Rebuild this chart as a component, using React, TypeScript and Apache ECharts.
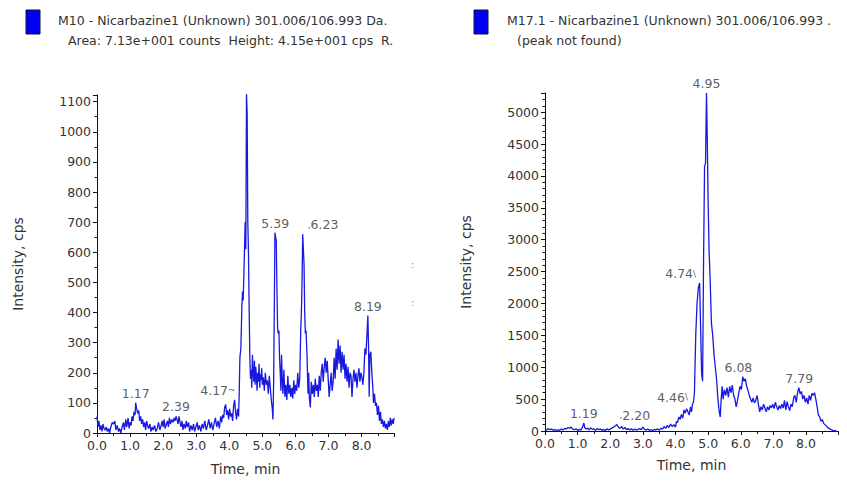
import React, { useEffect, useRef } from "react";
import * as echarts from "echarts";

// ---------- data ----------
// Left chromatogram: M10 - Nicarbazine1, [time (min), intensity (cps)]
const leftTrace: [number, number][] = [
  [0.0, 55], [0.03, 20], [0.06, 40], [0.09, 10], [0.12, 25], [0.15, 5], [0.18, 30], [0.21, 15], [0.25, 10], [0.28, 20],
  [0.31, 5], [0.35, 15], [0.38, 0], [0.42, 20], [0.46, 35], [0.5, 30], [0.54, 40], [0.57, 10], [0.61, 25], [0.65, 5],
  [0.68, 15], [0.72, 0], [0.76, 20], [0.8, 35], [0.83, 10], [0.87, 45], [0.9, 20], [0.94, 50], [0.97, 15], [1.0, 35],
  [1.03, 25], [1.06, 55], [1.09, 40], [1.12, 70], [1.15, 60], [1.17, 100], [1.2, 80], [1.23, 65], [1.26, 75], [1.29, 40],
  [1.32, 55], [1.35, 30], [1.38, 45], [1.41, 20], [1.44, 35], [1.47, 10], [1.5, 40], [1.53, 25], [1.56, 15], [1.6, 30],
  [1.63, 5], [1.67, 20], [1.7, 10], [1.74, 25], [1.78, 5], [1.82, 15], [1.86, 35], [1.9, 10], [1.94, 25], [1.97, 40],
  [2.0, 20], [2.03, 45], [2.06, 15], [2.1, 30], [2.13, 40], [2.16, 20], [2.19, 50], [2.22, 30], [2.26, 45], [2.3, 35],
  [2.33, 50], [2.36, 40], [2.39, 55], [2.42, 45], [2.45, 30], [2.48, 55], [2.51, 35], [2.54, 20], [2.57, 40], [2.6, 10],
  [2.63, 30], [2.67, 15], [2.7, 40], [2.73, 20], [2.77, 35], [2.8, 5], [2.84, 25], [2.88, 10], [2.92, 30], [2.95, 5],
  [2.99, 20], [3.03, 35], [3.06, 10], [3.1, 25], [3.14, 5], [3.18, 30], [3.22, 15], [3.26, 40], [3.3, 10], [3.34, 25],
  [3.38, 45], [3.42, 15], [3.46, 35], [3.5, 10], [3.54, 30], [3.58, 50], [3.62, 20], [3.66, 40], [3.7, 15], [3.74, 55],
  [3.77, 35], [3.8, 60], [3.83, 50], [3.86, 85], [3.89, 95], [3.92, 60], [3.95, 75], [3.98, 45], [4.01, 80], [4.04, 55],
  [4.07, 65], [4.1, 40], [4.13, 90], [4.16, 110], [4.19, 70], [4.22, 45], [4.25, 80], [4.28, 55], [4.3, 130], [4.32, 250],
  [4.35, 280], [4.38, 420], [4.4, 470], [4.42, 440], [4.44, 520], [4.46, 610], [4.48, 700], [4.5, 610], [4.52, 1125], [4.54, 1060],
  [4.56, 700], [4.58, 600], [4.6, 420], [4.62, 260], [4.64, 180], [4.66, 210], [4.68, 150], [4.7, 260], [4.72, 200], [4.74, 170],
  [4.76, 240], [4.78, 160], [4.8, 220], [4.82, 190], [4.84, 140], [4.86, 200], [4.88, 170], [4.9, 230], [4.92, 150], [4.94, 195],
  [4.96, 175], [4.98, 215], [5.0, 160], [5.03, 185], [5.06, 140], [5.09, 200], [5.12, 160], [5.15, 175], [5.18, 130], [5.21, 190],
  [5.24, 150], [5.27, 110], [5.3, 80], [5.32, 45], [5.34, 160], [5.36, 400], [5.38, 665], [5.4, 650], [5.42, 640], [5.44, 480],
  [5.46, 350], [5.48, 330], [5.5, 340], [5.52, 250], [5.54, 200], [5.56, 140], [5.58, 260], [5.6, 180], [5.62, 130], [5.65, 210],
  [5.68, 120], [5.71, 160], [5.74, 110], [5.77, 190], [5.8, 130], [5.83, 160], [5.86, 120], [5.89, 150], [5.92, 115], [5.95, 175],
  [5.98, 130], [6.01, 160], [6.04, 140], [6.07, 200], [6.1, 150], [6.13, 180], [6.16, 340], [6.18, 400], [6.2, 500], [6.22, 660],
  [6.24, 610], [6.26, 560], [6.28, 400], [6.3, 330], [6.32, 340], [6.35, 260], [6.38, 130], [6.4, 200], [6.42, 120], [6.45, 85],
  [6.48, 170], [6.51, 130], [6.54, 160], [6.57, 120], [6.6, 180], [6.63, 140], [6.66, 160], [6.69, 120], [6.72, 190], [6.75, 140],
  [6.78, 200], [6.81, 230], [6.84, 170], [6.87, 220], [6.9, 250], [6.93, 200], [6.96, 240], [6.99, 180], [7.02, 120], [7.05, 160],
  [7.08, 200], [7.11, 140], [7.14, 170], [7.17, 250], [7.2, 180], [7.23, 280], [7.26, 210], [7.29, 310], [7.32, 230], [7.35, 290],
  [7.38, 200], [7.41, 270], [7.44, 210], [7.47, 260], [7.5, 180], [7.53, 230], [7.56, 170], [7.59, 220], [7.62, 150], [7.65, 200],
  [7.68, 190], [7.71, 120], [7.74, 180], [7.77, 210], [7.8, 170], [7.83, 200], [7.86, 150], [7.89, 190], [7.92, 215], [7.95, 170],
  [7.98, 200], [8.01, 185], [8.04, 160], [8.07, 200], [8.1, 280], [8.13, 260], [8.16, 320], [8.19, 390], [8.21, 290], [8.23, 120],
  [8.25, 260], [8.28, 270], [8.31, 200], [8.34, 150], [8.36, 100], [8.39, 130], [8.42, 90], [8.45, 100], [8.48, 60], [8.51, 90],
  [8.54, 40], [8.57, 70], [8.6, 30], [8.63, 45], [8.66, 20], [8.69, 40], [8.72, 15], [8.75, 30], [8.78, 10], [8.81, 40],
  [8.84, 20], [8.87, 50], [8.9, 25], [8.93, 45], [8.96, 30], [8.98, 50],
];

// Right chromatogram: M17.1 - Nicarbazine1, [time (min), intensity (cps)]
const rightTrace: [number, number][] = [
  [0.0, 30], [0.05, 10], [0.1, 40], [0.15, 20], [0.2, 30], [0.25, 10], [0.3, 25], [0.35, 5], [0.4, 20], [0.45, 10],
  [0.5, 30], [0.55, 15], [0.6, 40], [0.65, 30], [0.7, 55], [0.75, 45], [0.8, 60], [0.85, 30], [0.9, 20], [0.95, 35],
  [1.0, 10], [1.05, 25], [1.1, 15], [1.15, 60], [1.19, 125], [1.22, 50], [1.26, 30], [1.3, 45], [1.35, 20], [1.4, 50],
  [1.45, 25], [1.5, 35], [1.55, 10], [1.6, 40], [1.65, 20], [1.7, 30], [1.75, 10], [1.8, 25], [1.85, 5], [1.9, 35],
  [1.95, 15], [2.0, 30], [2.05, 45], [2.1, 60], [2.15, 80], [2.2, 100], [2.25, 60], [2.3, 40], [2.35, 70], [2.4, 30],
  [2.45, 55], [2.5, 20], [2.55, 40], [2.6, 15], [2.65, 35], [2.7, 10], [2.75, 30], [2.8, 15], [2.85, 25], [2.9, 40],
  [2.95, 20], [3.0, 60], [3.05, 25], [3.1, 15], [3.15, 30], [3.2, 10], [3.25, 20], [3.3, 5], [3.35, 25], [3.4, 15],
  [3.45, 35], [3.5, 10], [3.55, 40], [3.6, 30], [3.65, 70], [3.7, 40], [3.75, 90], [3.8, 55], [3.85, 110], [3.9, 70],
  [3.95, 100], [4.0, 60], [4.03, 150], [4.06, 130], [4.1, 220], [4.14, 180], [4.18, 260], [4.22, 200], [4.26, 330], [4.3, 280],
  [4.34, 350], [4.38, 300], [4.42, 250], [4.46, 380], [4.49, 300], [4.52, 420], [4.55, 450], [4.58, 600], [4.62, 1500], [4.66, 2000],
  [4.7, 2250], [4.74, 2320], [4.77, 1600], [4.8, 900], [4.83, 780], [4.86, 2700], [4.89, 4150], [4.92, 4200], [4.95, 5300], [4.97, 4700],
  [5.0, 3600], [5.03, 2800], [5.06, 2400], [5.1, 1700], [5.14, 1500], [5.18, 1200], [5.22, 1000], [5.26, 800], [5.3, 500], [5.34, 300],
  [5.37, 220], [5.4, 500], [5.43, 700], [5.46, 500], [5.5, 650], [5.54, 560], [5.58, 680], [5.62, 530], [5.66, 700], [5.7, 600],
  [5.74, 720], [5.78, 560], [5.82, 500], [5.86, 380], [5.9, 480], [5.94, 600], [5.98, 700], [6.02, 650], [6.06, 850], [6.1, 780],
  [6.14, 820], [6.18, 700], [6.22, 640], [6.26, 560], [6.3, 500], [6.34, 450], [6.38, 520], [6.42, 440], [6.46, 480], [6.5, 560],
  [6.54, 420], [6.58, 300], [6.62, 380], [6.66, 330], [6.7, 420], [6.74, 360], [6.78, 300], [6.82, 380], [6.86, 330], [6.9, 400],
  [6.94, 360], [6.98, 420], [7.02, 350], [7.06, 450], [7.1, 380], [7.14, 330], [7.18, 400], [7.22, 350], [7.26, 420], [7.3, 360],
  [7.34, 480], [7.38, 330], [7.42, 460], [7.46, 380], [7.5, 320], [7.54, 420], [7.58, 380], [7.62, 520], [7.66, 560], [7.7, 450],
  [7.74, 600], [7.78, 680], [7.82, 580], [7.86, 620], [7.9, 500], [7.94, 560], [7.98, 450], [8.02, 520], [8.06, 420], [8.1, 560],
  [8.14, 480], [8.18, 590], [8.22, 560], [8.26, 600], [8.3, 500], [8.34, 380], [8.38, 250], [8.42, 220], [8.46, 150], [8.5, 180],
  [8.54, 120], [8.58, 100], [8.62, 80], [8.66, 60], [8.7, 40], [8.74, 30], [8.78, 20], [8.82, 10], [8.86, 5], [8.9, 0],
  [8.94, 0],
];

// Peak annotations
const leftPeakLabels = ["1.17", "2.39", "4.17", "4.53", "5.39", "6.23", "8.19"];
const leftPeakTimes = [1.17, 2.39, 4.17, 4.53, 5.39, 6.23, 8.19];
const leftPeakValues = [100, 55, 110, 1125, 665, 660, 390];

const rightPeakLabels = ["1.19", "2.20", "4.46", "4.74", "4.95", "6.08", "7.79"];
const rightPeakTimes = [1.19, 2.2, 4.46, 4.74, 4.95, 6.08, 7.79];
const rightPeakValues = [125, 100, 380, 2320, 5300, 850, 680];

// Legend / header texts
const leftHeader = [
  "M10 - Nicarbazine1 (Unknown) 301.006/106.993 Da.",
  "Area: 7.13e+001 counts  Height: 4.15e+001 cps  R.",
];
const rightHeader = [
  "M17.1 - Nicarbazine1 (Unknown) 301.006/106.993 .",
  "(peak not found)",
];
const xAxisTitle = "Time, min";
const yAxisTitle = "Intensity, cps";

// ---------- styles ----------
const FONT = "DejaVu Sans";
const LINE_COLOR = "#1818e0";
const TEXT_COLOR = "#333333";

// label text decorations and offsets (style only)
const leftLabelStyle: Record<string, { text: (s: string) => string; offset: [number, number] }> = {
  "4.17": { text: (s) => s + "{l|~}", offset: [-17, 0] },
  "6.23": { text: (s) => "{l|,}" + s, offset: [20, 0] },
};
const rightLabelStyle: Record<string, { text: (s: string) => string; offset: [number, number] }> = {
  "2.20": { text: (s) => "{l|,}" + s, offset: [18, 0] },
  "4.46": { text: (s) => s + "{l|\\}", offset: [-18, 0] },
  "4.74": { text: (s) => s + "{l|\\}", offset: [-19, 0] },
  "6.08": { text: (s) => s, offset: [-5, 0] },
};

function makeLabelData(
  labels: string[],
  times: number[],
  values: number[],
  styles: Record<string, { text: (s: string) => string; offset: [number, number] }>
) {
  return labels.map((name, i) => {
    const st = styles[name];
    return {
      name,
      value: [times[i], values[i]],
      label: {
        formatter: st ? st.text(name) : name,
        offset: st ? st.offset : [0, 0],
      },
    };
  });
}

function xAxisCfg(gridIndex: number, nameGap: number) {
  return {
    type: "value" as const,
    gridIndex,
    min: 0,
    max: 8.98,
    interval: 1,
    name: xAxisTitle,
    nameLocation: "middle" as const,
    nameGap,
    nameTextStyle: { fontFamily: FONT, fontSize: 14, color: TEXT_COLOR },
    axisLine: { show: true, onZero: false, lineStyle: { color: "#111", width: 1 } },
    axisTick: { show: true, length: 4, lineStyle: { color: "#111" } },
    minorTick: { show: true, splitNumber: 2, length: 3, lineStyle: { color: "#111" } },
    splitLine: { show: false },
    axisLabel: {
      fontFamily: FONT,
      fontSize: 12.5,
      color: TEXT_COLOR,
      margin: 6,
      showMaxLabel: false,
      formatter: (v: number) => v.toFixed(1),
    },
  };
}

function yAxisCfg(gridIndex: number, max: number, interval: number, minorSplit: number, nameGap: number) {
  return {
    type: "value" as const,
    gridIndex,
    min: 0,
    max,
    interval,
    name: yAxisTitle,
    nameLocation: "middle" as const,
    nameGap,
    nameRotate: 90,
    nameTextStyle: { fontFamily: FONT, fontSize: 14, color: TEXT_COLOR },
    axisLine: { show: true, onZero: false, lineStyle: { color: "#111", width: 1 } },
    axisTick: { show: true, length: 4, lineStyle: { color: "#111" } },
    minorTick: { show: true, splitNumber: minorSplit, length: 2.5, lineStyle: { color: "#111" } },
    splitLine: { show: false },
    axisLabel: {
      fontFamily: FONT,
      fontSize: 12.5,
      color: TEXT_COLOR,
      margin: 6,
      showMaxLabel: false,
      formatter: (v: number) => (v % interval === 0 ? String(v) : ""),
    },
  };
}

function peakSeries(xAxisIndex: number, data: any[]) {
  return {
    type: "scatter" as const,
    xAxisIndex,
    yAxisIndex: xAxisIndex,
    symbolSize: 0,
    silent: true,
    z: 5,
    data,
    label: {
      show: true,
      position: "top" as const,
      distance: 3,
      fontFamily: FONT,
      fontSize: 12.5,
      color: TEXT_COLOR,
      rich: { l: { fontFamily: FONT, fontSize: 9, color: TEXT_COLOR } },
    },
  };
}

function headerGraphics(x: number, rectX: number, lines: string[], line2Indent: number) {
  return [
    {
      type: "rect",
      shape: { x: rectX, y: 10, width: 14, height: 24 },
      style: { fill: "#0000f2", stroke: "#101030", lineWidth: 1 },
    },
    {
      type: "text",
      x,
      y: 20,
      style: { text: lines[0], fontFamily: FONT, fontSize: 12.5, fill: TEXT_COLOR, verticalAlign: "middle" },
    },
    {
      type: "text",
      x: x + line2Indent,
      y: 40,
      style: { text: lines[1], fontFamily: FONT, fontSize: 12.5, fill: TEXT_COLOR, verticalAlign: "middle" },
    },
  ];
}

export default function App() {
  const ref = useRef<HTMLDivElement | null>(null);

  useEffect(() => {
    document.body.style.margin = "0";
    if (!ref.current) return;
    const chart = echarts.init(ref.current, undefined, { renderer: "svg" });

    const option = {
      animation: false,
      backgroundColor: "#ffffff",
      textStyle: { fontFamily: FONT },
      grid: [
        { left: 97, top: 95, width: 297, height: 346 },
        { left: 545, top: 93, width: 293, height: 338 },
      ],
      xAxis: [xAxisCfg(0, 29), xAxisCfg(1, 27)],
      yAxis: [yAxisCfg(0, 1122, 100, 2, 72), yAxisCfg(1, 5300, 500, 5, 72)],
      series: [
        {
          type: "line",
          xAxisIndex: 0,
          yAxisIndex: 0,
          data: leftTrace,
          symbol: "none",
          lineStyle: { color: LINE_COLOR, width: 1.3 },
          itemStyle: { color: LINE_COLOR },
        },
        {
          type: "line",
          xAxisIndex: 1,
          yAxisIndex: 1,
          data: rightTrace,
          symbol: "none",
          lineStyle: { color: LINE_COLOR, width: 1.3 },
          itemStyle: { color: LINE_COLOR },
        },
        peakSeries(0, makeLabelData(leftPeakLabels, leftPeakTimes, leftPeakValues, leftLabelStyle)),
        peakSeries(1, makeLabelData(rightPeakLabels, rightPeakTimes, rightPeakValues, rightLabelStyle)),
      ],
      graphic: [
        ...headerGraphics(58, 26, leftHeader, 10),
        ...headerGraphics(507, 474, rightHeader, 10),
        { type: "text", x: 411, y: 260, style: { text: ":", fontSize: 9, fill: "#777", fontFamily: FONT } },
        { type: "text", x: 411, y: 298, style: { text: ":", fontSize: 9, fill: "#777", fontFamily: FONT } },
      ],
    };

    chart.setOption(option as any);
    return () => {
      chart.dispose();
    };
  }, []);

  return <div ref={ref} style={{ width: 847, height: 481 }} />;
}
